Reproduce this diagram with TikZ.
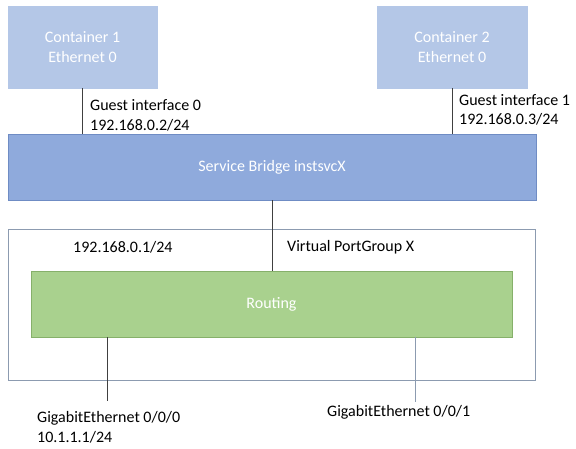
\documentclass[tikz,border=0pt]{standalone}
\usepackage{fontspec}
\setmainfont{Carlito}
\usetikzlibrary{positioning}
\definecolor{contblue}{HTML}{B4C7E7}
\definecolor{bridgeblue}{HTML}{8FAADC}
\definecolor{bridgeedge}{HTML}{6F8CC4}
\definecolor{routegreen}{HTML}{A9D18E}
\definecolor{routeedge}{HTML}{86B06A}
\definecolor{pgedge}{HTML}{8C9BB0}
\definecolor{wiregray}{HTML}{404040}
\tikzset{
  box/.style={inner sep=0pt, text=white, align=center, line width=0.8bp},
  container/.style={box, fill=contblue, draw=contblue, minimum width=149bp, minimum height=82bp},
  lbl/.style={inner sep=0pt, anchor=west, align=left, text=black},
  wire/.style={draw=wiregray, line width=0.8bp},
}
\begin{document}
\begin{tikzpicture}[x=1bp, y=-1bp, font=\fontsize{16bp}{19.5bp}\selectfont]
    \useasboundingbox [fill=white] (0,0) rectangle (576,449) ;
    % containers and bridge
    \node [container] (c1) at (82.5,47) {Container 1\\Ethernet 0} ;
    \node [container, minimum width=150bp] (c2) at (452,47) {Container 2\\Ethernet 0} ;
    \node [box, fill=bridgeblue, draw=bridgeedge, minimum width=528bp, minimum height=66bp] (bridge) at (272,167) {Service Bridge instsvcX} ;
    \draw [wire] (c1.south) -- (c1.south |- bridge.north) ;
    \draw [wire] (c2.south) -- (c2.south |- bridge.north) ;
    \node [lbl] (gi0) at (90,115.5) {Guest interface 0\\192.168.0.2/24} ;
    \node [lbl] (gi1) at (459,110) {Guest interface 1\\192.168.0.3/24} ;

    % port group with routing
    \node [draw=pgedge, line width=0.8bp, minimum width=527bp, minimum height=151bp] (pg) at (271.5,304.5) {} ;
    \node [box, fill=routegreen, draw=routeedge, minimum width=481bp, minimum height=66bp] (routing) at (271.5,304) {Routing} ;
    \draw [wire] (bridge.south) -- (bridge.south |- routing.north) ;
    \node [lbl] (gw) at (73,247) {192.168.0.1/24} ;
    \node [lbl] (vpg) at (287,247) {Virtual PortGroup X} ;

    % uplinks
    \coordinate (ge0) at (107,401) ;
    \coordinate (ge1) at (415,402) ;
    \draw [wire] (ge0 |- routing.south) -- (ge0) ;
    \draw [wire, draw=pgedge] (ge1 |- routing.south) -- (ge1) ;
    \node [lbl] (ge0lbl) at (37,427.5) {GigabitEthernet 0/0/0\\10.1.1.1/24} ;
    \node [lbl] (ge1lbl) at (327,412) {GigabitEthernet 0/0/1} ;
\end{tikzpicture}
\end{document}
